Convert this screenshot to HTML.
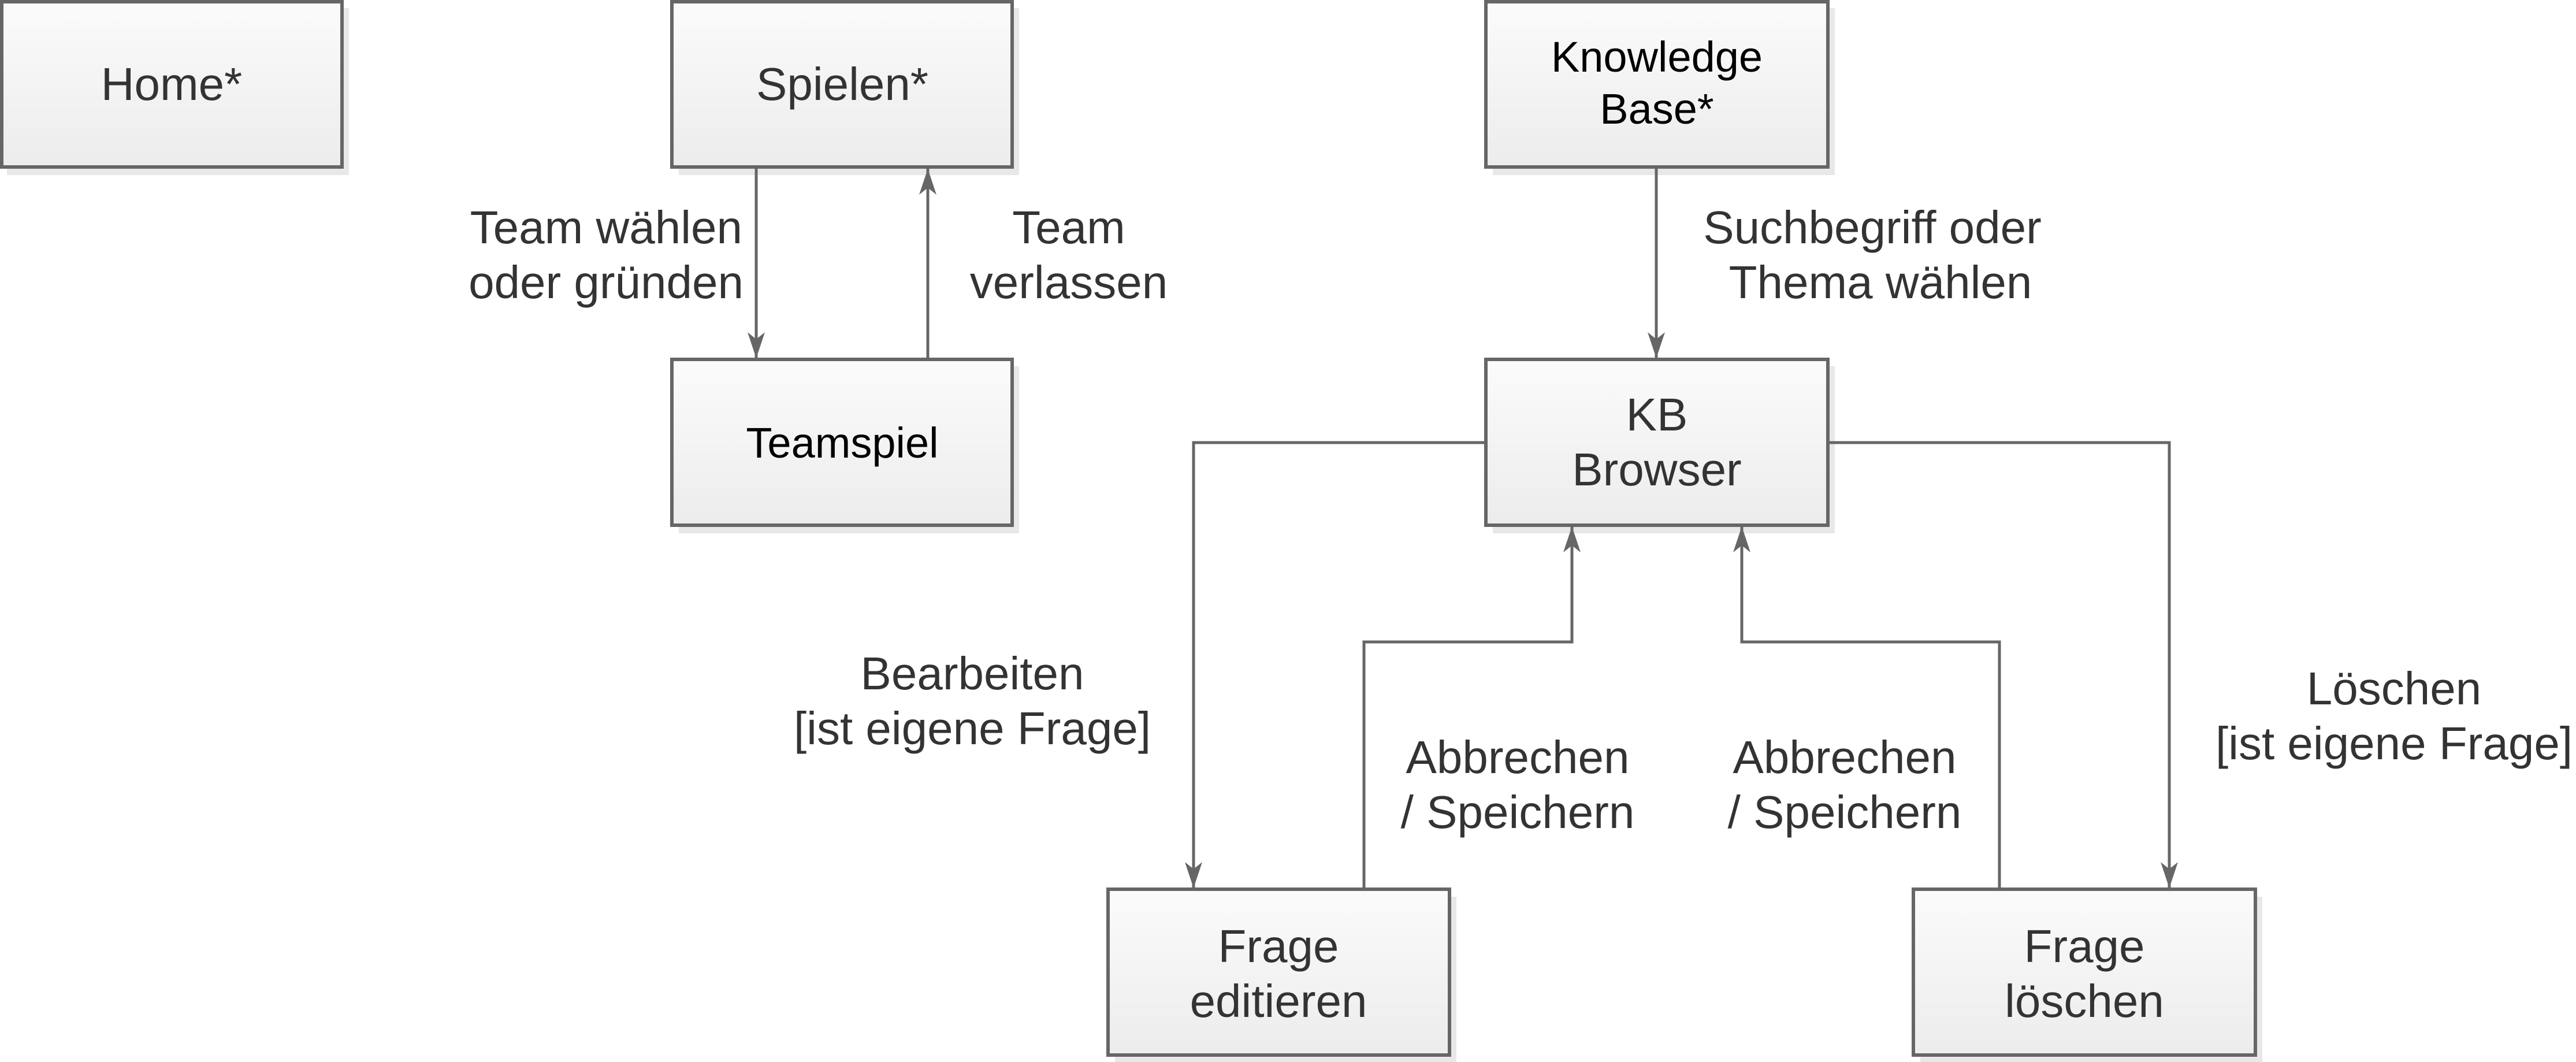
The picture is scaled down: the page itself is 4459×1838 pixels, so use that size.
<!DOCTYPE html>
<html><head><meta charset="utf-8"><style>
html,body{margin:0;padding:0;background:#fff;}
svg{display:block;}
text{font-family:"Liberation Sans",sans-serif;fill:#333;font-size:80px;text-anchor:middle;}
</style></head><body>
<svg width="4459" height="1838" viewBox="0 0 4459 1838" xmlns="http://www.w3.org/2000/svg">
<defs>
<linearGradient id="g" x1="0" y1="0" x2="0" y2="1"><stop offset="0" stop-color="#fbfbfb"/><stop offset="1" stop-color="#ececec"/></linearGradient>
<marker id="a" viewBox="0 0 45 30" refX="45" refY="15" markerWidth="45" markerHeight="30" markerUnits="userSpaceOnUse" orient="auto">
<path d="M0,0 L45,15 L0,30 L12,15 Z" fill="#666"/></marker>
</defs>
<g fill="#e8e8e8">
<rect x="12" y="14" width="592" height="289"/>
<rect x="1175" y="14" width="589" height="289"/>
<rect x="1175" y="634" width="589" height="289"/>
<rect x="2584" y="14" width="592" height="289"/>
<rect x="2584" y="634" width="592" height="289"/>
<rect x="1930" y="1552" width="591" height="288"/>
<rect x="3324" y="1552" width="592" height="288"/>
</g>
<g fill="url(#g)" stroke="#666" stroke-width="6">
<rect x="3" y="3" width="589" height="286"/>
<rect x="1163" y="3" width="589" height="286"/>
<rect x="1163" y="622" width="589" height="287"/>
<rect x="2572" y="3" width="592" height="286"/>
<rect x="2572" y="622" width="592" height="287"/>
<rect x="1918" y="1539" width="591" height="287"/>
<rect x="3312" y="1539" width="592" height="287"/>
</g>
<g fill="none" stroke="#666" stroke-width="5">
<path d="M1309 292 V620" marker-end="url(#a)"/>
<path d="M1606 620 V292" marker-end="url(#a)"/>
<path d="M2867 292 V620" marker-end="url(#a)"/>
<path d="M2572 766 H2066 V1537" marker-end="url(#a)"/>
<path d="M3164 766 H3755 V1537" marker-end="url(#a)"/>
<path d="M2361 1537 V1111 H2721 V911" marker-end="url(#a)"/>
<path d="M3461 1537 V1111 H3015 V911" marker-end="url(#a)"/>
</g>
<text x="297" y="173">Home*</text>
<text x="1458" y="173">Spielen*</text>
<text x="1458" y="792" style="fill:#000;font-size:74px">Teamspiel</text>
<text x="2868" y="124" style="fill:#000;font-size:74px">Knowledge</text>
<text x="2868" y="214" style="fill:#000;font-size:74px">Base*</text>
<text x="2868" y="745">KB</text>
<text x="2868" y="840">Browser</text>
<text x="2213" y="1665">Frage</text>
<text x="2213" y="1760">editieren</text>
<text x="3608" y="1665">Frage</text>
<text x="3608" y="1760">löschen</text>
<text x="1285" y="421" style="text-anchor:end">Team wählen</text>
<text x="1287" y="516" style="text-anchor:end">oder gründen</text>
<text x="1850" y="421">Team</text>
<text x="1850" y="516">verlassen</text>
<text x="3241" y="421">Suchbegriff oder</text>
<text x="3255" y="516">Thema wählen</text>
<text x="1683" y="1193">Bearbeiten</text>
<text x="1683" y="1288">[ist eigene Frage]</text>
<text x="2627" y="1338">Abbrechen</text>
<text x="2627" y="1433">/ Speichern</text>
<text x="3193" y="1338">Abbrechen</text>
<text x="3193" y="1433">/ Speichern</text>
<text x="4144" y="1219">Löschen</text>
<text x="4144" y="1314">[ist eigene Frage]</text>
</svg>
</body></html>
